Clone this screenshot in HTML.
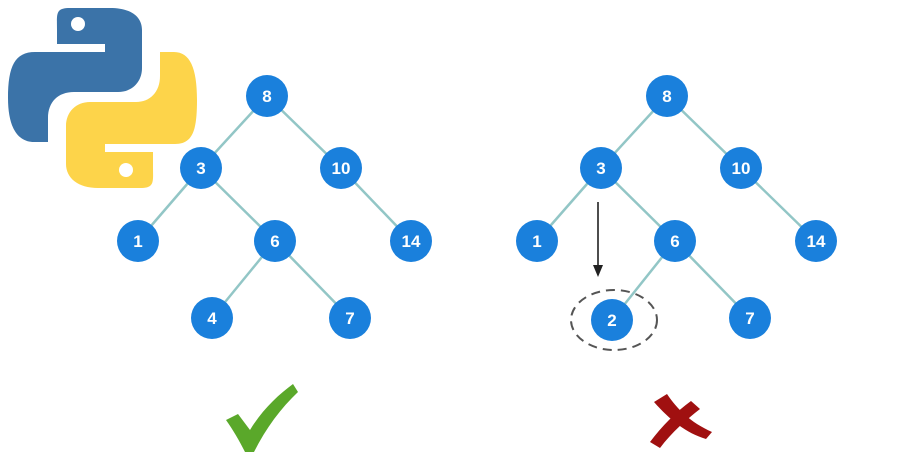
<!DOCTYPE html>
<html><head><style>
html,body{margin:0;padding:0;background:#fff;width:900px;height:473px;overflow:hidden}
text{font-family:"Liberation Sans",sans-serif;font-weight:bold;fill:#fff;font-size:17px}
</style></head><body>
<svg width="900" height="473" viewBox="0 0 900 473">
<g>
<path d="M70,8 C55,8 57,14 57,30 L57,44 L105,44 L105,52 L35,52 C15,52 8,66 8,98 C8,128 18,142 34,142 L48,142 L48,118 C48,102 58,92 74,92 L118,92 C132,92 142,82 142,68 L142,30 C142,16 130,8 110,8 Z" fill="#3b73a8"/>
<circle cx="78" cy="24" r="7" fill="#fff"/>
<path d="M140,188 C155,188 153,182 153,166 L153,152 L105,152 L105,144 L175,144 C193,144 197,130 197,100 C197,68 190,52 174,52 L160,52 L160,76 C160,92 150,102 136,102 L90,102 C76,102 66,112 66,126 L66,164 C66,178 78,188 98,188 Z" fill="#fdd44a"/>
<circle cx="126" cy="170" r="7" fill="#fff"/>
</g>
<g stroke="#92c6c6" stroke-width="2.5">
<line x1="267" y1="96" x2="201" y2="168"/><line x1="267" y1="96" x2="341" y2="168"/>
<line x1="201" y1="168" x2="138" y2="241"/><line x1="201" y1="168" x2="275" y2="241"/>
<line x1="341" y1="168" x2="411" y2="241"/>
<line x1="275" y1="241" x2="212" y2="318"/><line x1="275" y1="241" x2="350" y2="318"/>
<line x1="667" y1="96" x2="601" y2="168"/><line x1="667" y1="96" x2="741" y2="168"/>
<line x1="601" y1="168" x2="537" y2="241"/><line x1="601" y1="168" x2="675" y2="241"/>
<line x1="741" y1="168" x2="816" y2="241"/>
<line x1="675" y1="241" x2="612" y2="320"/><line x1="675" y1="241" x2="750" y2="318"/>
</g>
<ellipse cx="614" cy="320" rx="43" ry="30" fill="none" stroke="#555" stroke-width="2" stroke-dasharray="9,6"/>
<line x1="598" y1="202" x2="598" y2="268" stroke="#222" stroke-width="1.6"/>
<path d="M593,265 L598,277 L603,265 Z" fill="#222"/>
<g fill="#1a80dc">
<circle cx="267" cy="96" r="21"/><circle cx="201" cy="168" r="21"/><circle cx="341" cy="168" r="21"/>
<circle cx="138" cy="241" r="21"/><circle cx="275" cy="241" r="21"/><circle cx="411" cy="241" r="21"/>
<circle cx="212" cy="318" r="21"/><circle cx="350" cy="318" r="21"/>
<circle cx="667" cy="96" r="21"/><circle cx="601" cy="168" r="21"/><circle cx="741" cy="168" r="21"/>
<circle cx="537" cy="241" r="21"/><circle cx="675" cy="241" r="21"/><circle cx="816" cy="241" r="21"/>
<circle cx="612" cy="320" r="21"/><circle cx="750" cy="318" r="21"/>
</g>
<g text-anchor="middle">
<text x="267" y="102">8</text><text x="201" y="174">3</text><text x="341" y="174">10</text>
<text x="138" y="247">1</text><text x="275" y="247">6</text><text x="411" y="247">14</text>
<text x="212" y="324">4</text><text x="350" y="324">7</text>
<text x="667" y="102">8</text><text x="601" y="174">3</text><text x="741" y="174">10</text>
<text x="537" y="247">1</text><text x="675" y="247">6</text><text x="816" y="247">14</text>
<text x="612" y="326">2</text><text x="750" y="324">7</text>
</g>
<path d="M226,420 L238,414 L250,430 C262,410 278,395 293,384 L298,392 C281,408 266,428 254,452 L245,452 C239,440 233,430 226,420 Z" fill="#5aa82a"/>
<path d="M654,402 L667,394 C678,410 690,422 712,432 L706,439 C686,433 670,420 654,402 Z" fill="#a01010"/>
<path d="M691,401 L700,409 C686,420 672,432 660,448 L650,442 C662,426 676,412 691,401 Z" fill="#a01010"/>
</svg>
</body></html>
